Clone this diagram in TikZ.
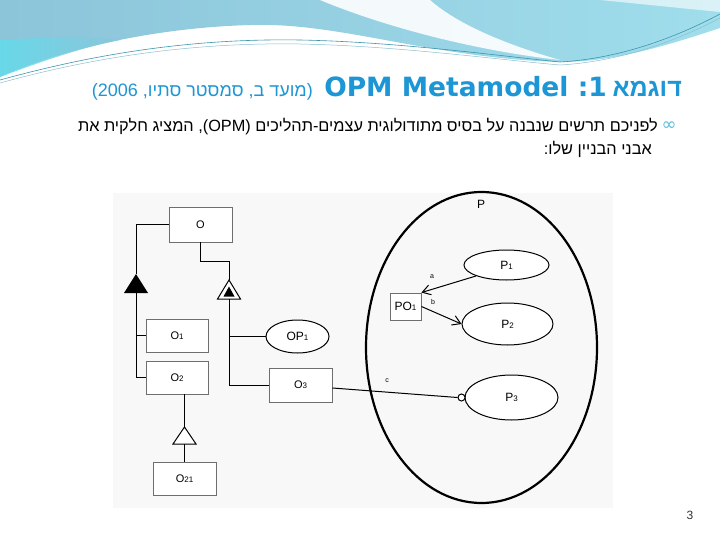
\documentclass[tikz,border=0pt]{standalone}
\usepackage{fontspec}
\setmainfont{Liberation Sans}
\newfontfamily\heb[Script=Hebrew]{Liberation Sans}
\newfontfamily\dvs{DejaVu Sans}
\TeXXeTstate=1
\usetikzlibrary{arrows.meta,shapes.geometric}
\definecolor{titleblue}{RGB}{28,150,212}
\definecolor{wavea}{RGB}{140,196,217}
\definecolor{waveb}{RGB}{160,222,236}
\definecolor{wavec}{RGB}{95,222,236}
\definecolor{waveline}{RGB}{60,150,175}
\definecolor{boxgray}{RGB}{110,110,110}
\definecolor{diagbg}{RGB}{248,248,248}
\definecolor{bulletcol}{RGB}{90,190,220}
\newcommand\dg[1]{{\fontsize{8}{8}\selectfont #1}}
\tikzset{
  objbox/.style={draw=boxgray, line width=0.9pt, fill=white, inner sep=0pt,
    font=\fontsize{11}{11}\selectfont},
  procell/.style={ellipse, draw=black, line width=1pt, fill=white, inner sep=0pt,
    font=\fontsize{12}{12}\selectfont},
  conn/.style={draw=black, line width=1pt},
  arr/.style={draw=black, line width=1pt, -{Straight Barb[length=8pt,width=10pt,line width=1pt]}},
  lbl/.style={inner sep=0pt, font=\fontsize{7}{7}\selectfont}
}
\begin{document}
\begin{tikzpicture}[x=1pt,y=-1pt]
\useasboundingbox (0,0) rectangle (720,540);
\fill[white] (0,0) rectangle (720,540);
% top wave decoration
\shade[left color=wavea, right color=waveb]
  (0,0) -- (720,0) -- (720,28) .. controls (660,48) and (610,62) .. (560,62)
  .. controls (430,58) and (340,22) .. (250,25)
  .. controls (150,28) and (60,50) .. (0,77) -- cycle;
\shade[left color=wavec, right color=wavea, opacity=0.8]
  (0,40) .. controls (40,38) and (80,35) .. (120,40) .. controls (80,48) and (40,62) .. (0,77) -- cycle;
\fill[white, opacity=0.9]
  (320,0) .. controls (380,25) and (470,50) .. (560,60)
  .. controls (490,40) and (450,18) .. (430,0) -- cycle;
\fill[white, opacity=0.6]
  (600,0) -- (720,0) -- (720,12) .. controls (680,8) and (640,4) .. (600,0) -- cycle;
\draw[waveline, line width=0.6pt]
  (0,80) .. controls (80,58) and (180,38) .. (300,40)
  .. controls (400,42) and (500,56) .. (560,62)
  .. controls (630,58) and (690,30) .. (720,14);
\draw[waveline!60, line width=0.5pt]
  (0,83) .. controls (80,61) and (180,42) .. (300,44)
  .. controls (400,46) and (500,60) .. (560,65)
  .. controls (630,61) and (690,34) .. (720,18);
% title
\node[anchor=base east, inner sep=0pt, text=titleblue] (tHeb) at (682,97)
  {\fontsize{25}{25}\selectfont\heb\bfseries\beginR דוגמא\endR};
\node[anchor=base east, inner sep=0pt, text=titleblue] (tLat) at (607,97)
  {\fontsize{26.5}{26.5}\selectfont\dvs\bfseries OPM Metamodel :1};
\node[anchor=base east, inner sep=0pt, text=titleblue] (tSub) at (313,97)
  {\fontsize{18}{18}\selectfont\heb\beginR(מועד ב, סמסטר סתיו, \beginL 2006\endL)\endR};
% body
\node[anchor=base east, inner sep=0pt] (body1) at (658,132)
  {\fontsize{16.3}{16.3}\selectfont\heb\beginR לפניכם תרשים שנבנה על בסיס מתודולוגית עצמים-תהליכים \beginL(OPM)\endL, המציג חלקית את\endR};
\node[anchor=base east, inner sep=0pt] (body2) at (652,155)
  {\fontsize{16.3}{16.3}\selectfont\heb\beginR אבני הבניין שלו:\endR};
\node[anchor=center, inner sep=0pt, text=bulletcol] (bul) at (669,126)
  {\fontsize{18}{18}\selectfont\dvs ∞};
% diagram background
\fill[diagbg] (113,193) rectangle (613,508);
% big process ellipse
\node[ellipse, draw=black, line width=2.2pt, minimum width=231pt, minimum height=311pt] (P) at (481.5,347.5) {};
\node[inner sep=0pt, font=\fontsize{12}{12}\selectfont] (Plbl) at (481,204) {P};
% objects
\node[objbox, minimum width=63pt, minimum height=35pt] (O) at (200.5,224.5) {O};
\node[objbox, minimum width=62pt, minimum height=33pt] (O1) at (177,335.5) {O\dg{1}};
\node[objbox, minimum width=62pt, minimum height=33pt] (O2) at (177,377.5) {O\dg{2}};
\node[objbox, minimum width=63pt, minimum height=34pt] (O3) at (300.5,385) {O\dg{3}};
\node[objbox, minimum width=63pt, minimum height=33pt] (O21) at (184.5,478.5) {O\dg{21}};
\node[objbox, minimum width=31pt, minimum height=27pt, font=\fontsize{12}{12}\selectfont] (PO1) at (405.5,306.5) {PO\dg{1}};
% processes
\node[procell, minimum width=63pt, minimum height=33pt] (OP1) at (297.5,336.5) {OP\dg{1}};
\node[procell, minimum width=85pt, minimum height=30pt] (P1) at (506.5,265) {P\dg{1}};
\node[procell, minimum width=91pt, minimum height=42pt] (P2) at (507.5,324) {P\dg{2}};
\node[procell, minimum width=93pt, minimum height=45pt] (P3) at (511.5,397.5) {P\dg{3}};
\node[circle, draw=black, line width=1pt, fill=white, minimum size=7pt, inner sep=0pt] (cp) at (461.5,397.5) {};
% triangles
\coordinate (t1a) at (136,274);
\coordinate (t1b) at (136,293);
\fill[black] (t1a) -- (148,293) -- (124,293) -- cycle;
\coordinate (t2a) at (229,280);
\coordinate (t2b) at (229,299);
\draw[black, line width=1pt, fill=white] (t2a) -- (240.5,299) -- (217.5,299) -- cycle;
\fill[black] (229,286.5) -- (234.5,296.5) -- (223.5,296.5) -- cycle;
\coordinate (t3a) at (184.5,427);
\coordinate (t3b) at (184.5,444);
\draw[black, line width=1pt, fill=white] (t3a) -- (196,444) -- (173,444) -- cycle;
% connectors
\draw[conn] (O.west) -| (t1a);
\draw[conn] (t1b) |- (O1.west);
\draw[conn] (t1b) |- (O2.west);
\draw[conn] (O.south) -- ++(0,19) -| (t2a);
\draw[conn] (t2b) |- (OP1.west);
\draw[conn] (t2b) |- (O3.west);
\draw[conn] (t3a |- O2.south) -- (t3a);
\draw[conn] (t3b) -- (O21.north);
\draw[conn] ([yshift=-3pt]O3.east) -- (cp.west);
\draw[arr] (P1.south west) -- (PO1.north east);
\draw[arr] (PO1.east) -- (P2.west);
% link labels
\node[lbl] (la) at (432,277) {a};
\node[lbl] (lb) at (433,302) {b};
\node[lbl] (lc) at (387,381) {c};
% page number
\node[inner sep=0pt, text=black!80, font=\fontsize{12}{12}\selectfont] (pg) at (690,515) {3};
\end{tikzpicture}
\end{document}
